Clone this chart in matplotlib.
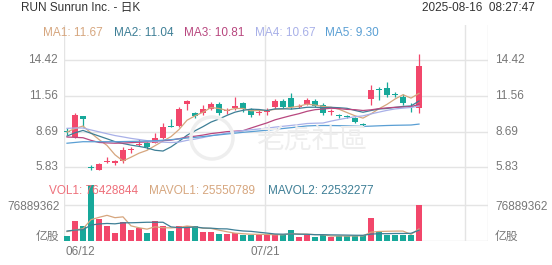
import matplotlib
matplotlib.use("Agg")
import matplotlib.pyplot as plt
import numpy as np
from matplotlib.patches import Ellipse

# ---------------- data ----------------
dates = ["06/12", "06/13", "06/16", "06/17", "06/18", "06/20", "06/23", "06/24", "06/25", "06/26",
         "06/27", "06/30", "07/01", "07/02", "07/03", "07/07", "07/08", "07/09", "07/10", "07/11",
         "07/14", "07/15", "07/16", "07/17", "07/18", "07/21", "07/22", "07/23", "07/24", "07/25",
         "07/28", "07/29", "07/30", "07/31", "08/01", "08/04", "08/05", "08/06", "08/07", "08/08",
         "08/11", "08/12", "08/13", "08/14", "08/15"]
opens = [8.72, 8.25, 9.95, 5.82, 5.65, 6.22, 6.18, 6.35, 7.20, 7.65,
         7.80, 7.82, 8.15, 9.12, 9.15, 10.95, 10.17, 10.17, 10.50, 10.95,
         10.33, 10.57, 10.97, 10.49, 10.20, 10.30, 10.65, 11.18, 11.37, 10.70,
         10.90, 11.18, 10.83, 10.27, 10.00, 9.92, 9.81, 9.26, 11.29, 12.06,
         12.17, 11.66, 11.45, 10.72, 10.57]
highs = [8.96, 10.17, 9.97, 6.02, 6.15, 6.68, 6.42, 7.50, 7.45, 8.08,
         7.85, 8.60, 9.42, 9.72, 10.70, 11.23, 10.30, 10.83, 11.10, 11.10,
         10.57, 11.50, 11.05, 10.60, 10.45, 10.60, 11.35, 11.30, 11.82, 10.90,
         11.37, 11.30, 10.97, 10.50, 10.15, 10.05, 9.90, 9.35, 12.40, 12.30,
         12.70, 11.90, 11.70, 10.97, 14.95]
lows = [8.43, 8.15, 9.10, 5.62, 5.60, 6.20, 6.00, 6.20, 6.95, 7.54,
        7.28, 7.80, 8.10, 9.05, 9.10, 10.45, 9.76, 10.03, 10.45, 10.03,
        10.10, 10.43, 10.30, 9.90, 10.05, 10.00, 10.55, 10.60, 10.50, 10.57,
        10.83, 10.70, 10.00, 10.05, 9.80, 9.75, 9.40, 9.05, 10.83, 11.23,
        11.50, 11.45, 10.83, 10.30, 10.20]
closes = [8.68, 10.05, 9.70, 5.78, 6.10, 6.30, 6.30, 7.22, 7.30, 7.70,
          7.45, 8.16, 9.08, 9.08, 10.55, 11.18, 9.92, 10.55, 10.95, 10.17,
          10.38, 10.72, 10.55, 10.03, 10.28, 10.38, 11.18, 10.70, 10.65, 10.78,
          11.22, 10.78, 10.17, 10.32, 9.97, 9.89, 9.49, 9.23, 12.04, 12.02,
          11.64, 11.62, 10.97, 10.68, 13.93]
volumes = [10.7e6, 43e6, 32e6, 120e6, 47e6, 32e6, 18e6, 41e6, 23.5e6, 27e6,
           17e6, 43e6, 32e6, 21e6, 32e6, 32e6, 33e6, 18.5e6, 18.5e6, 14e6,
           14.5e6, 18e6, 12.8e6, 12.8e6, 12.8e6, 14e6, 14e6, 14e6, 23.5e6, 9e6,
           12.8e6, 9e6, 12.8e6, 9e6, 11e6, 11e6, 11e6, 12.8e6, 48.5e6, 18.5e6,
           13e6, 13e6, 13e6, 13e6, 76428844]
# closes / volumes before the visible window (needed for the moving averages)
pre_closes = [6.3, 6.1, 6.0, 5.9, 6.2, 6.5, 6.4, 6.6, 6.8, 6.7,
              6.5, 6.4, 6.6, 6.9, 7.0, 6.8, 6.7, 6.5, 6.3, 6.4,
              6.6, 6.5, 6.7, 6.8, 6.9, 7.0, 6.8, 6.6, 6.7, 6.9,
              9.2, 9.8, 10.4, 10.6, 10.9, 10.7, 10.5, 10.8, 10.4, 10.2,
              10.6, 10.3, 10.0, 9.5, 7.0, 6.8, 6.9, 6.7, 7.0, 7.1,
              7.4, 7.8, 8.1, 8.3, 8.5, 8.6, 8.7, 8.6, 8.7]
pre_volumes = [22e6, 25e6, 20e6, 24e6, 21e6, 26e6, 19e6, 23e6, 22e6]

ma_periods = [5, 10, 20, 30, 60]
ma_names = ["MA1", "MA2", "MA3", "MA4", "MA5"]
ma_values = ["11.67", "11.04", "10.81", "10.67", "9.30"]
vol_ma_periods = [5, 10]
vol_names = ["VOL1", "MAVOL1", "MAVOL2"]
vol_values = ["76428844", "25550789", "22532277"]
price_ticks = [5.83, 8.69, 11.56, 14.42]
price_tick_labels = ["5.83", "8.69", "11.56", "14.42"]
vol_tick = 76889362
vol_tick_label = "76889362"
vol_unit = "亿股"
x_labels = ["06/12", "07/21"]
title = "RUN Sunrun Inc. - 日K"
timestamp = "2025-08-16  08:27:47"
watermark = "老虎社區"

# ---------------- style ----------------
W, H = 552, 265
RED = "#f2476b"
TEAL = "#17a89a"
GRID = "#e4e4e4"
LBL = "#777777"
ma_colors = ["#d6a67e", "#3e7f96", "#b8477f", "#a8b0e8", "#5a9fd4"]
vol_colors = ["#ee6f7a", "#d6a67e", "#3e7f96"]
LAT = ["Liberation Sans", "DejaVu Sans"]
CJK = ["Liberation Sans", "Noto Sans CJK SC", "DejaVu Sans"]
FS = 8.5

def fx(px):
    return px / W

def fy(py):
    return 1 - py / H

fig = plt.figure(figsize=(W / 100, H / 100), dpi=100)
fig.patch.set_facecolor("white")

L, R = 64, 488
x0_px, step_px = 67, 8
xmin = (L - x0_px) / step_px
xmax = (R - x0_px) / step_px

axp = fig.add_axes([fx(L), fy(175), fx(R) - fx(L), (175 - 25) / H])
axv = fig.add_axes([fx(L), fy(241), fx(R) - fx(L), (241 - 175) / H])

for ax in (axp, axv):
    ax.set_xlim(xmin, xmax)
    for s in ax.spines.values():
        s.set_visible(False)
    ax.set_xticks([])
    ax.set_yticks([])
    ax.patch.set_alpha(0)

# price scale: 8.69 at y=131.7, 12.46 px per unit
ppu = 12.46
axp.set_ylim(8.69 - (175 - 131.7) / ppu, 8.69 + (131.7 - 25) / ppu)
axv.set_ylim(0, vol_tick * 66 / 36)

n = len(closes)
x = np.arange(n)
o = np.array(opens); c = np.array(closes); hi = np.array(highs); lo = np.array(lows)
up = c >= o
cols = [RED if u else TEAL for u in up]

# grid
for t in price_ticks:
    axp.axhline(t, color=GRID, lw=1.0, zorder=0)
axv.axhline(vol_tick, color=GRID, lw=1.0, zorder=0)
axv.axhline(0, color=GRID, lw=1.0, zorder=0)
for ax in (axp, axv):
    for xv in (xmin, 24.75, 49.75, xmax):
        ax.axvline(xv, color=GRID, lw=1.0, zorder=0)

# watermark
fig.text(fx(312), fy(140), watermark, family=["Noto Sans CJK TC", "Noto Sans CJK SC"],
         fontsize=20, color="#eeeeee", ha="center", va="center", zorder=0)
fig.patches.append(Ellipse((fx(212), fy(138)), 42 / W, 42 / H, transform=fig.transFigure,
                           fill=False, ec="#eeeeee", lw=2.5, zorder=0))

# candles
axp.vlines(x, lo, hi, colors=cols, lw=0.9, zorder=2)
body_h = np.maximum(np.abs(c - o), 0.09)
body_b = np.minimum(c, o)
axp.bar(x, body_h, bottom=body_b, width=0.72, color=cols, zorder=3, linewidth=0)

# moving averages
all_c = np.array(pre_closes + closes)
off = len(pre_closes)
for p, col in zip(ma_periods, ma_colors):
    ma = np.array([all_c[off + i - p + 1: off + i + 1].mean() for i in range(n)])
    axp.plot(x, ma, color=col, lw=0.9, zorder=4)

# volume
axv.bar(x, volumes, width=0.72, color=cols, zorder=2, linewidth=0)
all_v = np.array(pre_volumes + volumes)
voff = len(pre_volumes)
for p, col in zip(vol_ma_periods, vol_colors[1:]):
    mv = np.array([all_v[voff + i - p + 1: voff + i + 1].mean() for i in range(n)])
    axv.plot(x, mv, color=col, lw=0.9, zorder=3)

# texts
fig.text(fx(21), fy(8), title, family=CJK, fontsize=FS, color="#333333", ha="left", va="center")
fig.text(fx(535), fy(8), timestamp, family=LAT, fontsize=FS, color="#333333", ha="right", va="center")

ma_x = [43, 114, 184, 255, 325]
for xx, nm, v, col in zip(ma_x, ma_names, ma_values, ma_colors):
    fig.text(fx(xx), fy(33), f"{nm}: {v}", family=LAT, fontsize=FS, color=col, ha="left", va="center")

vol_x = [49, 149, 268]
for xx, nm, v, col in zip(vol_x, vol_names, vol_values, vol_colors):
    fig.text(fx(xx), fy(191), f"{nm}: {v}", family=LAT, fontsize=FS, color=col, ha="left", va="center", zorder=1)

def py_price(p):
    return 131.7 - (p - 8.69) * ppu

for t, lab in zip(price_ticks, price_tick_labels):
    yy = py_price(t)
    fig.text(fx(58), fy(yy), lab, family=LAT, fontsize=FS, color=LBL, ha="right", va="center")
    fig.text(fx(495), fy(yy), lab, family=LAT, fontsize=FS, color=LBL, ha="left", va="center")

fig.text(fx(60), fy(207), vol_tick_label, family=LAT, fontsize=FS, color=LBL, ha="right", va="center")
fig.text(fx(495), fy(207), vol_tick_label, family=LAT, fontsize=FS, color=LBL, ha="left", va="center")
fig.text(fx(59), fy(237), vol_unit, family=CJK, fontsize=FS, color=LBL, ha="right", va="center")
fig.text(fx(495), fy(237), vol_unit, family=CJK, fontsize=FS, color=LBL, ha="left", va="center")

fig.text(fx(65), fy(252), x_labels[0], family=LAT, fontsize=FS, color=LBL, ha="left", va="center")
fig.text(fx(265), fy(252), x_labels[1], family=LAT, fontsize=FS, color=LBL, ha="center", va="center")

fig.savefig("out.png", dpi=100, facecolor="white")
